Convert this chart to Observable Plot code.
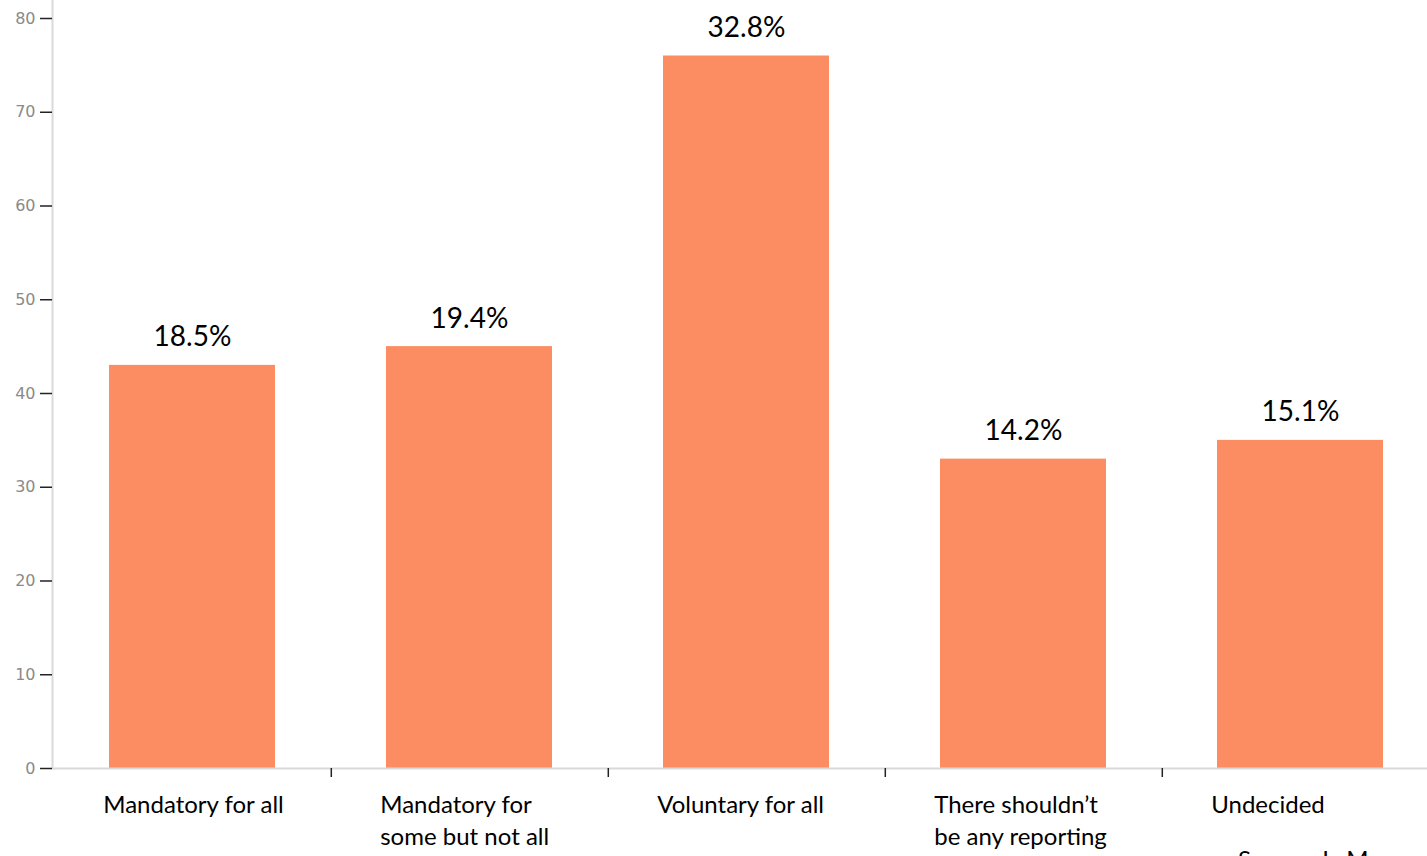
<!DOCTYPE html>
<html>
<head>
<meta charset="utf-8">
<script src="https://cdn.jsdelivr.net/npm/d3@7"></script>
<script src="https://cdn.jsdelivr.net/npm/@observablehq/plot@0.6"></script>
<style>
  html, body { margin: 0; padding: 0; background: #fff; overflow: hidden; }
  #wrap { position: relative; width: 1427px; height: 856px; overflow: hidden; }
  #chart svg { max-width: none !important; }
  #source { position: absolute; left: 1238px; top: 844px; font-family: Lato, sans-serif; font-size: 24px; color: #000; white-space: nowrap; }
</style>
</head>
<body>
<div id="wrap">
  <div id="chart"></div>
  <div id="source">Source: L. M</div>
</div>
<script>
const categories = [
  "Mandatory for all",
  "Mandatory for\nsome but not all",
  "Voluntary for all",
  "There shouldn’t\nbe any reporting",
  "Undecided"
];
const counts = [43, 45, 76, 33, 35];
const percentLabels = ["18.5%", "19.4%", "32.8%", "14.2%", "15.1%"];
const yTicks = [0, 10, 20, 30, 40, 50, 60, 70, 80];

const data = categories.map((c, i) => ({category: c, count: counts[i], pct: percentLabels[i]}));

const W = 1440, ML = 52, MR = 0;
const paddingInner = 0.4, paddingOuter = 0.2;
const step = (W - ML - MR) / (categories.length - paddingInner + 2 * paddingOuter);
const bandwidth = step * (1 - paddingInner);

const chart = Plot.plot({
  width: W,
  height: 856,
  marginLeft: ML,
  marginRight: MR,
  marginTop: 18,
  marginBottom: 88,
  style: {background: "transparent", overflow: "visible", maxWidth: "none"},
  x: {domain: categories, paddingInner, paddingOuter, axis: null, label: null},
  y: {domain: [0, 80], axis: null, label: null},
  marks: [
    Plot.barY(data, {x: "category", y: "count", fill: "#fc8d62"}),
    Plot.frame({anchor: "left", stroke: "#d9d9d9", strokeWidth: 2, insetTop: -18}),
    Plot.ruleY([0], {stroke: "#d9d9d9", strokeWidth: 2}),
    Plot.axisY({ticks: yTicks, label: null, tickSize: 12, tickPadding: 5, stroke: "#222", strokeWidth: 1.5, fill: "#8a8a8a",
      fontSize: 16, fontFamily: "DejaVu Sans, sans-serif"}),
    Plot.axisX({ticks: categories.slice(0, categories.length - 1), label: null, dx: step / 2, tickSize: 9,
      tickFormat: () => "", stroke: "#222", strokeWidth: 1.5}),
    Plot.text(data, {x: "category", y: "count", text: "pct", dy: -19, lineAnchor: "bottom",
      fontSize: 28, fontFamily: "Lato, sans-serif", fill: "#000"}),
    Plot.text(data, {x: "category", text: "category", frameAnchor: "bottom", textAnchor: "start",
      lineAnchor: "top", dx: -bandwidth / 2 - 6, dy: 22, lineHeight: 1.33,
      fontSize: 24, fontFamily: "Lato, sans-serif", fill: "#000"})
  ]
});
document.getElementById("chart").appendChild(chart);
</script>
</body>
</html>
